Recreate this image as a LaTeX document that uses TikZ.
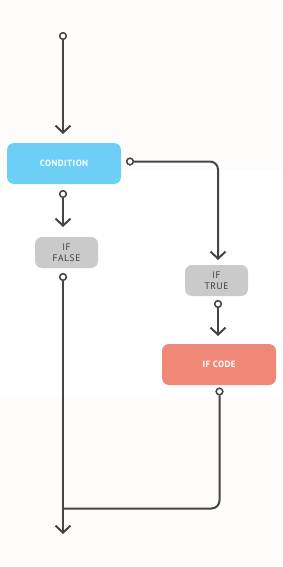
\documentclass[tikz,border=0pt]{standalone}
\usepackage{fontspec}
\setmainfont{PT Sans}
\usetikzlibrary{arrows.meta}
\definecolor{bgoff}{HTML}{FDFCFA}
\definecolor{linec}{HTML}{454545}
\definecolor{cyanbox}{HTML}{6DCFF6}
\definecolor{coralbox}{HTML}{F08878}
\definecolor{graybox}{HTML}{CACACA}
\definecolor{graytext}{HTML}{3F3F3F}
\tikzset{
  bigbox/.style={rounded corners=7pt, minimum width=114pt, minimum height=41pt, inner sep=0pt, text=white, font=\addfontfeature{LetterSpace=5}\fontsize{9}{11}\selectfont\bfseries},
  smallbox/.style={rounded corners=7pt, fill=graybox, minimum width=63pt, minimum height=31pt, inner sep=0pt, text=graytext, align=center, font=\addfontfeature{LetterSpace=6}\fontsize{9.5}{11.5}\selectfont},
  dot/.style={circle, draw=linec, fill=white, line width=1.4pt, minimum size=6.5pt, inner sep=0pt},
  conn/.style={draw=linec, line width=2pt, rounded corners=8pt},
  arr/.style={conn, -{Straight Barb[length=7pt,width=15pt,line width=2pt]}},
}
\begin{document}
\begin{tikzpicture}[x=1pt,y=-1pt]
\fill[bgoff] (0,0) rectangle (283,567);
\fill[white] (0,170) rectangle (283,397);
\useasboundingbox (0,0) rectangle (283,567);
% nodes
\node[bigbox, fill=cyanbox] (cond) at (64,163.5) {CONDITION};
\node[smallbox] (iffalse) at (66.5,252.5) {IF\\FALSE};
\node[smallbox] (iftrue) at (216.5,280.5) {IF\\TRUE};
\node[bigbox, fill=coralbox] (ifcode) at (219,364.5) {IF CODE};
% dots
\node[dot] (d0) at (63,36) {};
\node[dot] (d1) at (130,161.5) {};
\node[dot] (d2) at (63,194) {};
\node[dot] (d3) at (63,277) {};
\node[dot] (d4) at (218,304) {};
\node[dot] (d5) at (219.5,391.5) {};
\coordinate (t0) at (63,134);
\coordinate (t1) at (218,260);
\coordinate (t2) at (63,227);
\coordinate (t4) at (218,336);
\coordinate (join) at (63,508.5);
\coordinate (out) at (63,534);
% connectors
\draw[arr] (d0) -- (t0);
\draw[arr] (d1) -| (t1);
\draw[arr] (d2) -- (t2);
\draw[arr] (d4) -- (t4);
\draw[arr] (d3) -- (out);
\draw[conn] (d5) |- (join);
% redraw dots on top
\foreach \d in {d0,d1,d2,d3,d4,d5} \node[dot] at (\d) {};
\end{tikzpicture}
\end{document}
